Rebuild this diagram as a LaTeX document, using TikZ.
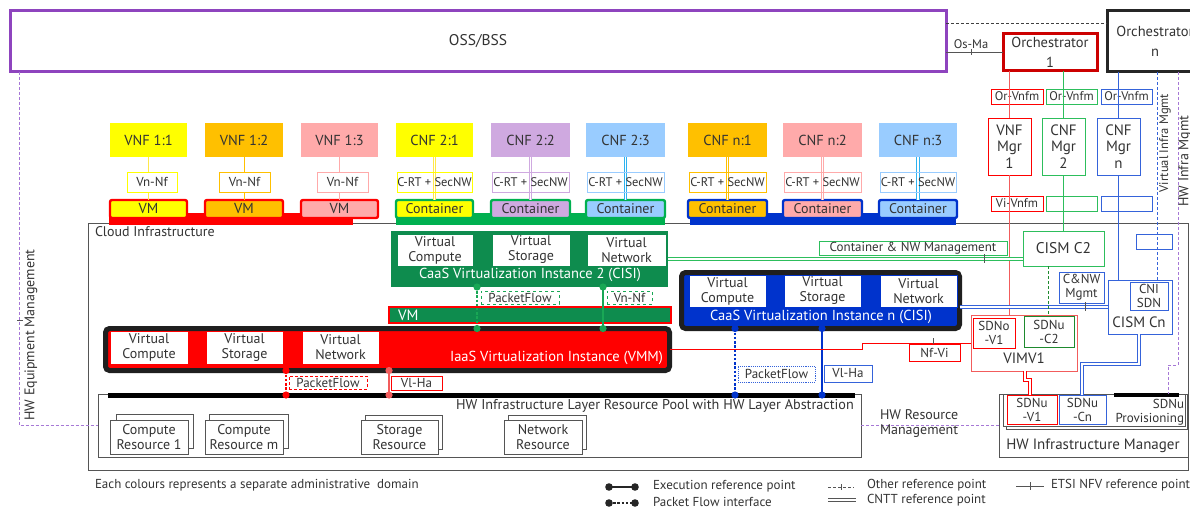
\documentclass[tikz,border=0pt]{standalone}
\usepackage{fontspec}
\setmainfont{PT Sans}
\usetikzlibrary{calc}

% palette
\definecolor{tcol}{HTML}{333333}
\definecolor{ossp}{HTML}{8E44BE}
\definecolor{hwp}{HTML}{A678D6}
\definecolor{rd}{HTML}{FF0000}
\definecolor{rdl}{HTML}{F25C5C}
\definecolor{orchr}{HTML}{CC0000}
\definecolor{yel}{HTML}{FFFF00}
\definecolor{yell}{HTML}{FFE84A}
\definecolor{org}{HTML}{FFC000}
\definecolor{pnk}{HTML}{FFAAAA}
\definecolor{lil}{HTML}{CFA9E0}
\definecolor{lbl}{HTML}{99CCFF}
\definecolor{lbll}{HTML}{2EB2F0}
\definecolor{gbar}{HTML}{00B050}
\definecolor{gcaas}{HTML}{0E8C4E}
\definecolor{gdot}{HTML}{19A755}
\definecolor{gln}{HTML}{2DBE5C}
\definecolor{gdk}{HTML}{1E8A2E}
\definecolor{bcaas}{HTML}{0033CC}
\definecolor{bln}{HTML}{3563DA}
\definecolor{gry}{HTML}{555555}

\newcommand{\fmain}{\fontsize{14}{15}\selectfont}
\newcommand{\ftag}{\fontsize{13}{14}\selectfont}
\newcommand{\fsm}{\fontsize{12.5}{13.5}\selectfont}
\newcommand{\fleg}{\fontsize{13}{14}\selectfont}
\newcommand{\fbig}{\fontsize{15}{16.5}\selectfont}
\newcommand{\fwht}{\fontsize{14.5}{16}\selectfont}

\tikzset{
  % a box given by its corners (x1,y1) and (x2,y2)
  rect/.style n args={4}{minimum width={(#3)-(#1)}, minimum height={(#4)-(#2)},
    at={({((#1)+(#3))/2},{((#2)+(#4))/2})}},
  base/.style={inner sep=0pt, outer sep=0pt, align=center, text=tcol, font=\fmain},
  nf/.style={base, fill=#1},
  grp/.style={base, fill=#1, line width=2.4pt, rounded corners=2pt},
  lbox/.style={base, font=\ftag, draw=#1, line width=0.9pt},
  wlbox/.style={lbox=#1, fill=white},
  vbox/.style={base, fill=white, draw=#1, line width=0.8pt},
  wtext/.style={inner sep=0pt, outer sep=0pt, text=white, font=\fwht},
  plaintext/.style={inner sep=0pt, outer sep=0pt, text=tcol, font=\fmain, align=center},
  thinln/.style={line width=0.9pt},
  dsh/.style={thinln, dash pattern=on 3pt off 2pt},
  cntt/.style={line width=0.8pt, double=white, double distance=1.5pt},
  execln/.style={line width=2.2pt},
  pfln/.style={line width=2.4pt, dash pattern=on 2.4pt off 1.8pt},
}

\begin{document}
\begin{tikzpicture}[x=1pt,y=-1pt]
\useasboundingbox (0,0) rectangle (1190,508);

% ---------------- cloud infrastructure frame
\node[base, draw=gry, line width=0.9pt, rect={88}{223}{1188}{470}] (cloud) {};
\node[plaintext, anchor=north west] (cloudlbl) at (95,227) {Cloud Infrastructure};

% ---------------- management domain on top
\node[base, draw=ossp, line width=3pt, font=\fontsize{15.5}{17}\selectfont, rect={10}{11}{946}{72}] (oss) {OSS/BSS};
\node[base, draw=orchr, line width=3pt, font=\fontsize{14.5}{15}\selectfont, rect={1003}{34}{1097}{71}] (orch1) {Orchestrator\\[5pt]1};
\node[base, draw=black!85, line width=3pt, font=\fontsize{14.5}{15}\selectfont, rect={1107}{11}{1203}{72}] (orchn) {Orchestrator\\[5pt]n};

% ---------------- tenant bars under the VM / container rows
\fill[rd] (109,213) rectangle (353,225);
\fill[gbar] (396,213) rectangle (665,225);
\fill[bcaas] (690,213) rectangle (956,225);

% ---------------- VNFs on VMs
\foreach \id/\xa/\xb/\la/\lb/\c/\lc/\t in {a/110/187/127/177/yel/yell/{VNF 1:1}, b/205/283/219/270/org/org/{VNF 1:2}, c/301/378/317/368/pnk/pnk/{VNF 1:3}} {
  \node[nf=\c, font=\fontsize{14.5}{15}\selectfont, rect={\xa}{123}{\xb}{157}] (vnf\id) {\t};
  \node[grp=\c, draw=rd, font=\fontsize{14.5}{15}\selectfont, rect={\xa}{200}{\xb}{218}] (vm\id) {VM};
  \draw[thinln, draw=\lc] (vnf\id.south) -- (vm\id.north);
  \node[wlbox=\c, rect={\la}{172}{\lb}{192}] (vnl\id) {Vn-Nf};
}

% ---------------- CNFs in containers
\foreach \id/\xa/\xb/\c/\lc/\g/\t in {d/396/473/yel/yell/gbar/{CNF 2:1}, e/491/570/lil/lil/gbar/{CNF 2:2}, f/586/665/lbl/lbll/gbar/{CNF 2:3}, g/688/767/org/org/bcaas/{CNF n:1}, h/783/862/pnk/pnk/bcaas/{CNF n:2}, i/879/957/lbl/lbll/bcaas/{CNF n:3}} {
  \node[nf=\c, font=\fontsize{14.5}{15}\selectfont, rect={\xa}{123}{\xb}{157}] (cnf\id) {\t};
  \node[grp=\c, draw=\g, rect={\xa}{200}{\xb}{218}] (ctr\id) {Container};
  \draw[cntt, draw=\lc] (cnf\id.south) -- (ctr\id.north);
  \node[lbox=\c, font=\fontsize{12.5}{13}\selectfont, rect={\xa+1}{172}{\xb-1}{192}] (crt\id) {C-RT + SecNW};
}

% ---------------- CaaS virtualization instance 2
\node[base, fill=gcaas, rect={391}{231}{668}{287}] (caas2) {};
\node[vbox=gcaas, rect={397}{234}{473}{266}] (c2vc) {Virtual\\Compute};
\node[vbox=gcaas, rect={492}{234}{570}{266}] (c2vs) {Virtual\\Storage};
\node[vbox=gcaas, rect={587}{234}{666}{266}] (c2vn) {Virtual\\Network};
\node[wtext] (caas2lbl) at (530,275) {CaaS Virtualization Instance 2 (CISI)};

% VM hosting the CaaS instance
\node[base, fill=gcaas, draw=rd, line width=2pt, rect={389}{307}{671}{323}] (vmg) {};
\node[wtext, font=\fbig, anchor=west] (vmglbl) at (398,315) {VM};

% ---------------- IaaS virtualization instance
\node[base, fill=rd, draw=black!88, line width=5pt, rounded corners=4pt, rect={105.5}{328.5}{669.5}{370.5}] (iaas) {};
\node[vbox=rd, rect={110}{331}{188}{364}] (ivc) {Virtual\\Compute};
\node[vbox=rd, rect={206}{331}{283}{364}] (ivs) {Virtual\\Storage};
\node[vbox=rd, rect={302}{331}{379}{364}] (ivn) {Virtual\\Network};
\node[wtext, anchor=east] (iaaslbl) at (663,358) {IaaS Virtualization Instance (VMM)};

% ---------------- CaaS virtualization instance n
\node[base, fill=bcaas, draw=black!88, line width=5pt, rounded corners=4pt, rect={681.5}{272.5}{959.5}{328.5}] (caasn) {};
\node[vbox=bcaas, rect={689}{275}{766}{307}] (cnvc) {Virtual\\Compute};
\node[vbox=bcaas, rect={784}{275}{861}{307}] (cnvs) {Virtual\\Storage};
\node[vbox=bcaas, rect={880}{275}{957}{307}] (cnvn) {Virtual\\Network};
\node[wtext] (caasnlbl) at (821,317) {CaaS Virtualization Instance n (CISI)};

% ---------------- HW infrastructure layer
\node[base, draw=gry, line width=0.9pt, rect={98}{394}{861}{457}] (hwlayer) {};
\node[base, fill=black, rect={108}{392.5}{855}{397.5}] (hwbar) {};
\node[plaintext, font=\fontsize{14.2}{15}\selectfont] (hwlbl) at (655,406) {HW Infrastructure Layer Resource Pool with HW Layer Abstraction};

\node[vbox=gry, rect={116}{414}{193}{448}] (cr1b) {};
\node[vbox=gry, rect={110}{420}{188}{454}] (cr1) {Compute\\Resource 1};
\node[vbox=gry, rect={209}{414}{288}{448}] (crmb) {};
\node[vbox=gry, rect={205}{420}{283}{454}] (crm) {Compute\\Resource m};
\node[vbox=gry, rect={365}{415}{442}{449}] (stb) {};
\node[vbox=gry, rect={361}{420}{438}{454}] (st) {Storage\\Resource};
\node[vbox=gry, rect={508}{415}{586}{449}] (nwb) {};
\node[vbox=gry, rect={504}{420}{582}{454}] (nw) {Network\\Resource};

% ---------------- execution / packet flow points between layers
\coordinate (xg1) at (477,0);
\coordinate (xg2) at (603,0);
\coordinate (xr1) at (286,0);
\coordinate (xr2) at (389,0);
\coordinate (xb1) at (735,0);
\coordinate (xb2) at (822,0);

\draw[pfln, gdot] (caas2.south -| xg1) -- (iaas.north -| xg1);
\draw[execln, gdot] (caas2.south -| xg2) -- (iaas.north -| xg2);
\foreach \p in {caas2.south -| xg1, iaas.north -| xg1, caas2.south -| xg2, iaas.north -| xg2}
  \fill[gdot] (\p) circle[radius=3.6pt];

\draw[pfln, rd] (iaas.south -| xr1) -- (hwbar.center -| xr1);
\draw[execln, rdl] (iaas.south -| xr2) -- (hwbar.center -| xr2);
\fill[rd] (iaas.south -| xr1) circle[radius=3.6pt];
\fill[rd] (hwbar.center -| xr1) circle[radius=3.6pt];
\fill[rdl] (iaas.south -| xr2) circle[radius=3.6pt];
\fill[rdl] (hwbar.center -| xr2) circle[radius=3.6pt];

\draw[pfln, bcaas] (caasn.south -| xb1) -- (hwbar.center -| xb1);
\draw[execln, bcaas, line width=2.6pt] (caasn.south -| xb2) -- (hwbar.center -| xb2);
\foreach \p in {caasn.south -| xb1, hwbar.center -| xb1, caasn.south -| xb2, hwbar.center -| xb2}
  \fill[bcaas] (\p) circle[radius=3.6pt];

\node[lbox=gdot, dashed, rect={481}{291}{559}{304}] (pf2) {PacketFlow};
\node[lbox=gdot, dashed, rect={607}{291}{652}{304}] (vnnf2) {Vn-Nf};
\node[lbox=rd, densely dashed, rect={289}{376}{367}{389}] (pfr) {PacketFlow};
\node[lbox=rd, rect={391}{376}{442}{390}] (vlhr) {Vl-Ha};
\node[lbox=bln, densely dotted, rect={738}{366}{815}{382}] (pfb) {PacketFlow};
\node[lbox=bln, rect={824}{365}{872}{382}] (vlhb) {Vl-Ha};

% ---------------- VNF / CNF managers
\node[lbox=rd, font=\fsm, rect={991}{89}{1043}{104}] (orv1) {Or-Vnfm};
\node[lbox=gln, font=\fsm, rect={1046}{89}{1097}{104}] (orv2) {Or-Vnfm};
\node[lbox=bln, font=\fsm, rect={1101}{89}{1152}{104}] (orvn) {Or-Vnfm};
\node[vbox=rd, font=\fbig, rect={988}{118}{1031}{175}] (vnfm1) {VNF\\Mgr\\1};
\node[vbox=gln, font=\fbig, rect={1042}{118}{1085}{175}] (cnfm2) {CNF\\Mgr\\2};
\node[vbox=bln, font=\fbig, rect={1097}{118}{1140}{175}] (cnfmn) {CNF\\Mgr\\n};
\node[lbox=rd, font=\fsm, rect={991}{196}{1043}{211}] (viv1) {Vi-Vnfm};
\node[lbox=gln, rect={1046}{196}{1097}{211}] (viv2) {};
\node[lbox=bln, rect={1101}{196}{1152}{211}] (vivn) {};

% ---------------- infrastructure managers
\node[vbox=gln, font=\fontsize{15.5}{16}\selectfont, rect={1023}{231}{1104}{266}] (cism2) {CISM C2};
\node[lbox=gln, rect={819}{241}{1007}{255}] (cnwlbl) {Container \& NW Management};
\node[lbox=bln, rect={1136}{234}{1172}{249}] (smallb) {};
\node[lbox=bln, rect={1059}{272}{1104}{303}] (cnwm) {C\&NW\\Mgmt};
\node[vbox=bln, rect={1108}{280}{1172}{334}] (cismcn) {};
\node[lbox=bln, rect={1130}{282}{1168}{310}] (cnisdn) {CNI\\SDN};
\node[plaintext, font=\fbig] (cismcnlbl) at (1139,322) {CISM Cn};

\node[vbox=rdl, rect={971}{315}{1077}{371}] (vimv1) {};
\node[lbox=rd, rect={973}{318}{1015}{348}] (sdnov1) {SDNo\\-V1};
\node[lbox=gdk, rect={1024}{316}{1074}{347}] (sdnuc2) {SDNu\\-C2};
\node[plaintext, font=\fbig] (vimv1lbl) at (1024,358) {VIMV1};

\node[vbox=gry, rect={999}{394}{1188}{457}] (hwim) {};
\node[vbox=gry, rect={1006}{394}{1187}{429}] (hwimb) {};
\node[vbox=gry, rect={1003}{394}{1185}{426}] (hwimf) {};
\node[lbox=rd, rect={1007}{395}{1057}{424}] (sdnuv1) {SDNu\\-V1};
\node[lbox=bln, rect={1059}{395}{1106}{424}] (sdnucn) {SDNu\\-Cn};
\node[base, fill=black, rect={1114}{392.5}{1179}{397}] (provbar) {};
\node[plaintext, font=\ftag, align=right, anchor=east] (sdnprov) at (1184,412) {SDNu\\Provisioning};
\node[plaintext, font=\fbig] (hwimlbl) at (1093,446) {HW Infrastructure Manager};

% ---------------- management connectors
\draw[thinln, gry] (orch1.west -| oss.east) -- (orch1.west) coordinate[pos=0.44] (tkos);
\draw[thinln, gry] ($(tkos)+(0,-3)$) -- ($(tkos)+(0,3)$);
\node[plaintext, font=\fsm, anchor=south] (osma) at ($(tkos)+(0,-4)$) {Os-Ma};

\coordinate (osstop) at ([yshift=18.5pt]oss.east);
\draw[dsh, black!75] (osstop) -- (osstop -| orchn.west);

\draw[thinln, rdl] (orch1.south -| vnfm1.north) -- (vnfm1.north);
\draw[thinln, rdl] (vnfm1.south) -- (vimv1.north -| vnfm1.south);
\draw[thinln, gln] (orch1.south -| cnfm2.north) -- (cnfm2.north);
\draw[thinln, gln] (cnfm2.south) -- (cism2.north -| cnfm2.south);
\draw[thinln, bln] (orchn.south -| cnfmn.north) -- (cnfmn.north);
\draw[thinln, bln] (cnfmn.south) -- (cismcn.north -| cnfmn.south);

\coordinate (xvi) at (1157,0);
\coordinate (xhi) at (1178,0);
\coordinate (xhi2) at (1168,0);
\draw[dsh, bln] (orchn.south -| xvi) -- (cismcn.north -| xvi);
\draw[dsh, hwp] (orchn.south -| xhi) -- ++(0,293) -| (hwim.north -| xhi2);
\node[plaintext, font=\fsm, rotate=90] (vimgmt) at (1165,143) {Virtual Infra Mgmt};
\node[plaintext, rotate=90] (hwimgmt) at (1185,161) {HW Infra Mgmt};

\draw[cntt, gln] (caas2.east) -- (caas2.east -| cism2.west) coordinate[pos=0.89] (tkg);
\draw[thinln, gry] ($(tkg)+(0,-5)$) -- ($(tkg)+(0,4)$);
\draw[cntt, bln] (cismcn.west -| caasn.east) -- (cismcn.west) coordinate[pos=0.845] (tkb);
\draw[thinln, gry] ($(tkb)+(0,-5)$) -- ($(tkb)+(0,4)$);

\coordinate (xgd) at (1048,0);
\draw[dsh, gdk] (cism2.south -| xgd) -- (sdnuc2.north -| xgd);

\draw[thinln, rd] (iaas.east) -- ++(193,0) |- (vimv1.west) coordinate[pos=0.826] (tknf);
\draw[thinln, gry] ($(tknf)+(0,-5)$) -- ($(tknf)+(0,2)$);
\node[lbox=rd, rect={909}{344}{960}{361}] (nfvi) {Nf-Vi};

\coordinate (xrd1) at (1025,0);
\coordinate (xrd2) at (1030,0);
\draw[cntt, rd] (vimv1.south -| xrd1) -- ++(0,9) -| (sdnuv1.north -| xrd2);
\coordinate (xbd1) at (1139,0);
\coordinate (xbd2) at (1082,0);
\draw[cntt, bln] (cismcn.south -| xbd1) -- ++(0,30) -| (sdnucn.north -| xbd2);

% hardware management
\coordinate (xhe) at (19,0);
\draw[dsh, hwp] (oss.south -| xhe) |- (hwlayer.west);
\coordinate (tkhe) at (19,320);
\draw[thinln, gry] ($(tkhe)+(-2,0)$) -- ($(tkhe)+(4,0)$);
\node[plaintext, rotate=90] (hweq) at (31,335) {HW Equipment Management};

\draw[dsh, hwp] (hwlayer.east) -- (hwlayer.east -| hwim.west);
\node[plaintext, align=left, anchor=west] (hwres) at (880,424) {HW Resource\\Management};

% ---------------- legend
\node[plaintext, font=\fleg, anchor=west] (note) at (95,485) {Each colours represents a separate administrative\ \ domain};

\coordinate (lge1) at (609,487);
\coordinate (lge2) at (635,487);
\draw[execln, black!85] (lge1) -- (lge2);
\fill[black!85] (lge1) circle[radius=3.8pt] (lge2) circle[radius=3.8pt];
\node[plaintext, font=\fleg, anchor=west] (lget) at (653,486) {Execution reference point};

\coordinate (lgp1) at (609,503);
\coordinate (lgp2) at (635,503);
\draw[pfln, black!85] (lgp1) -- (lgp2);
\fill[black!85] (lgp1) circle[radius=3.8pt] (lgp2) circle[radius=3.8pt];
\node[plaintext, font=\fleg, anchor=west] (lgpt) at (653,502) {Packet Flow interface};

\coordinate (lgo1) at (828,487);
\coordinate (lgo2) at (854,487);
\draw[dsh, gry] (lgo1) -- (lgo2) coordinate[pos=0.5] (lgom);
\draw[thinln, gry] ($(lgom)+(0,-3)$) -- ($(lgom)+(0,3)$);
\node[plaintext, font=\fleg, anchor=west] (lgot) at (867,485) {Other reference point};

\coordinate (lgc1) at (828,500);
\coordinate (lgc2) at (856,500);
\draw[cntt, gry] (lgc1) -- (lgc2);
\node[plaintext, font=\fleg, anchor=west] (lgct) at (867,500) {CNTT reference point};

\coordinate (lgn1) at (1016,486);
\coordinate (lgn2) at (1044,486);
\draw[thinln, gry] (lgn1) -- (lgn2) coordinate[pos=0.5] (lgnm);
\draw[thinln, gry] ($(lgnm)+(0,-4)$) -- ($(lgnm)+(0,4)$);
\node[plaintext, font=\fleg, anchor=west] (lgnt) at (1051,485) {ETSI NFV reference point};

\end{tikzpicture}
\end{document}
